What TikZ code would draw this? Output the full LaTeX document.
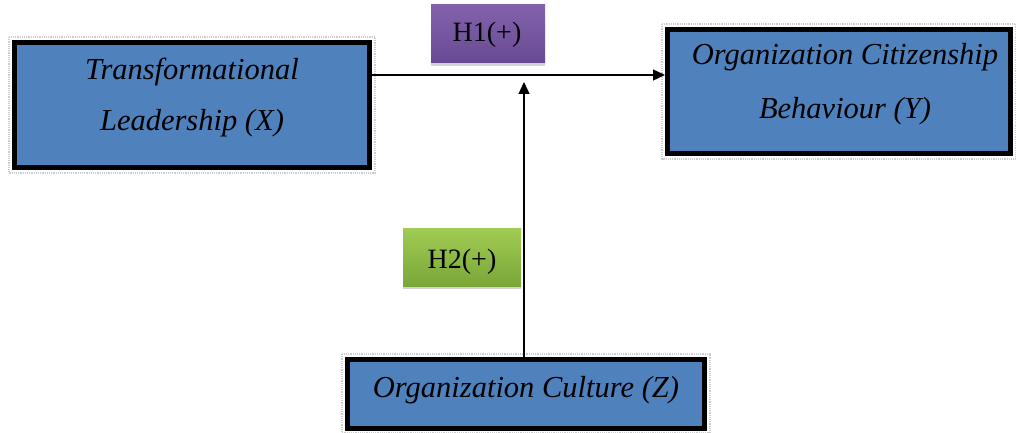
\documentclass[tikz,border=0pt]{standalone}
\usepackage{fontspec}
\setmainfont{Liberation Serif}
\usetikzlibrary{arrows.meta}
\definecolor{boxblue}{RGB}{79,129,189}
\definecolor{purpT}{RGB}{130,98,172}
\definecolor{purpB}{RGB}{104,74,146}
\definecolor{greenT}{RGB}{160,204,84}
\definecolor{greenB}{RGB}{122,166,56}
\tikzset{
  varbox/.style={draw=black, line width=5pt, fill=boxblue, inner sep=0pt},
  shadowframe/.style={draw=gray!40, line width=1.2pt, densely dotted},
  hypbox/.style={draw=none, inner sep=0pt},
  vtext/.style={font=\fontsize{30.5}{36}\selectfont\itshape, anchor=base, inner sep=0pt},
  htext/.style={font=\fontsize{28}{33}\selectfont, anchor=base, inner sep=0pt},
  arr/.style={line width=1.3pt, -{Triangle[length=12pt,width=11pt]}}
}
\begin{document}
\begin{tikzpicture}[x=1pt,y=1pt]
\useasboundingbox (0,0) rectangle (1016,-433);
% shadow frames
\draw[shadowframe] (9,-37) rectangle (375,-173);
\draw[shadowframe] (662,-24) rectangle (1016,-159);
\draw[shadowframe] (342,-354) rectangle (710,-433);
% main boxes
\node[varbox, minimum width=355, minimum height=125] (X) at (192,-105) {};
\node[varbox, minimum width=343, minimum height=124] (Y) at (839,-91.5) {};
\node[varbox, minimum width=357, minimum height=69] (Z) at (526,-394) {};
% texts
\node[vtext] (xt1) at (192,-80) {Transformational};
\node[vtext] (xt2) at (192,-130) {Leadership (X)};
\node[vtext] (yt1) at (845,-65) {Organization Citizenship};
\node[vtext] (yt2) at (845,-118) {Behaviour (Y)};
\node[vtext] (zt) at (526,-397) {Organization Culture (Z)};
% hypothesis boxes
\fill[gray!35] (431,-63) rectangle (545,-66);
\fill[gray!35] (403,-286) rectangle (521,-289);
\node[hypbox, top color=purpT, bottom color=purpB, minimum width=114, minimum height=58] (H1) at (488,-34) {};
\node[hypbox, top color=greenT, bottom color=greenB, minimum width=118, minimum height=58] (H2) at (462,-257) {};
\node[htext] (h1t) at (487,-42) {H1(+)};
\node[htext] (h2t) at (462,-268) {H2(+)};
% connectors
\coordinate (top) at (524,-82);
\draw[arr] ([yshift=30]X.east) -- ([yshift=30]X.east -| Y.west);
\draw[arr] ([xshift=-2]Z.north) -- ([xshift=-2]Z.north |- top);
\end{tikzpicture}
\end{document}
